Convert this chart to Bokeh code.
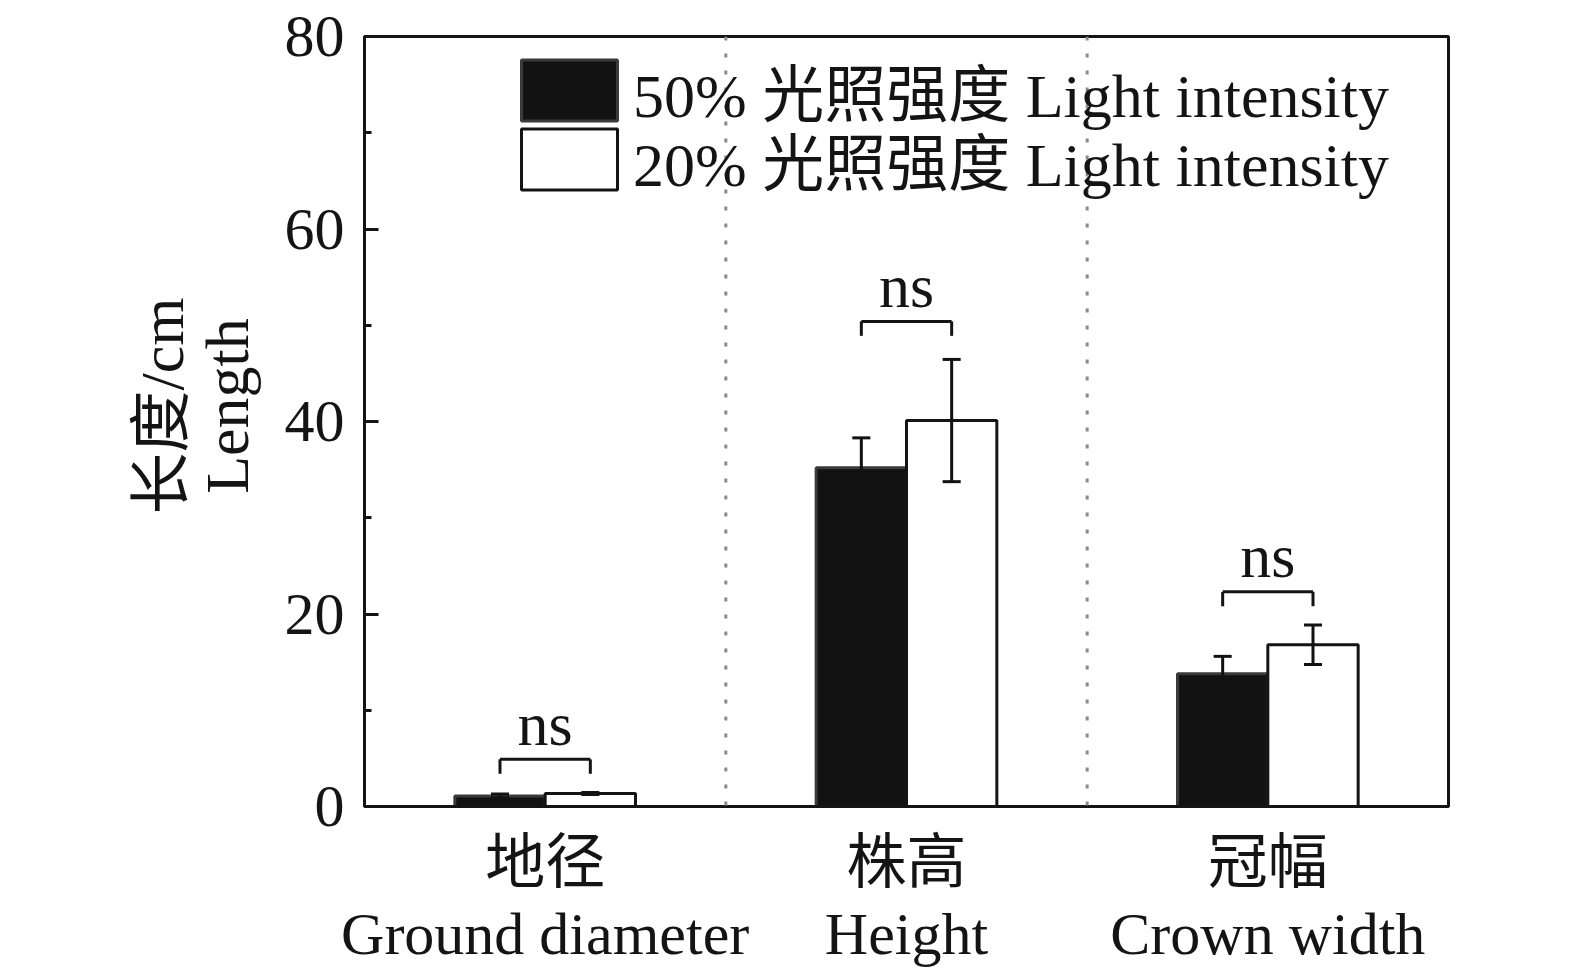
import numpy as np
from bokeh.plotting import figure
from bokeh.models import Range1d, FixedTicker, Span, Legend, LegendItem
from bokeh.core.properties import value
from bokeh.embed import file_html
from bokeh.resources import INLINE

# ---- data ----
categories = ["地径", "株高", "冠幅"]
categories_en = ["Ground diameter", "Height", "Crown width"]
series_names = ["50% 光照强度 Light intensity", "20% 光照强度 Light intensity"]
y_title = ["长度/cm", "Length"]
mean_50 = [1.1, 35.2, 13.8]
err_50 = [0.2, 3.1, 1.8]
mean_20 = [1.35, 40.1, 16.8]
err_20 = [0.1, 6.35, 2.05]
sig_labels = ["ns", "ns", "ns"]
bracket_y = [4.9, 50.4, 22.3]
y_ticks = [0, 20, 40, 60, 80]

FONT = "Liberation Serif, Noto Sans CJK SC"
TXT = "#141414"
NB = "\u00a0"

n = len(categories)
xc = np.arange(1, n + 1, dtype=float)
bw = 0.25
x50 = xc - bw / 2
x20 = xc + bw / 2

FW, FH = 1084, 770
p = figure(output_backend="svg", toolbar_location=None,
           frame_width=FW, frame_height=FH,
           x_range=Range1d(0.5, n + 0.5), y_range=Range1d(0, 80),
           min_border_left=364, min_border_right=100,
           min_border_top=36, min_border_bottom=100)
p.background_fill_color = "white"
p.border_fill_color = "white"
p.outline_line_color = TXT
p.outline_line_width = 3
p.xgrid.visible = False
p.ygrid.visible = False

# dotted separators between groups
for s in (xc[:-1] + xc[1:]) / 2:
    p.add_layout(Span(location=float(s), dimension="height", line_color="#8a8a8a",
                      line_width=3, line_dash="4 13"))

r50 = p.vbar(x=x50, top=mean_50, width=bw, bottom=0, fill_color="#121212",
             line_color="#3a3a3a", line_width=3)
r20 = p.vbar(x=x20, top=mean_20, width=bw, bottom=0, fill_color="white",
             line_color=TXT, line_width=3)

# error bars
cap = 0.025
for xs, m, e in ((x50, mean_50, err_50), (x20, mean_20, err_20)):
    m = np.array(m); e = np.array(e)
    p.segment(x0=xs, y0=m - e, x1=xs, y1=m + e, line_color="#121212", line_width=3)
    p.segment(x0=xs - cap, y0=m + e, x1=xs + cap, y1=m + e, line_color="#121212", line_width=3)
    p.segment(x0=xs - cap, y0=m - e, x1=xs + cap, y1=m - e, line_color="#121212", line_width=3)

# significance brackets
by = np.array(bracket_y)
leg = 1.5
p.segment(x0=x50, y0=by, x1=x20, y1=by, line_color=TXT, line_width=3)
p.segment(x0=x50, y0=by, x1=x50, y1=by - leg, line_color=TXT, line_width=3)
p.segment(x0=x20, y0=by, x1=x20, y1=by - leg, line_color=TXT, line_width=3)
p.text(x=xc, y=by + 3.7, text=sig_labels, text_font=value(FONT),
       text_font_size=value("62px"), text_color=TXT, text_align="center",
       text_baseline="middle")

# axes
ya = p.yaxis[0]
ya.ticker = FixedTicker(ticks=y_ticks,
                        minor_ticks=[(a + b) / 2 for a, b in zip(y_ticks[:-1], y_ticks[1:])])
ya.major_tick_in = 14
ya.major_tick_out = 0
ya.minor_tick_in = 7
ya.minor_tick_out = 0
ya.major_tick_line_width = 3
ya.minor_tick_line_width = 3
ya.axis_line_width = 3
ya.axis_line_color = TXT
ya.major_tick_line_color = TXT
ya.minor_tick_line_color = TXT
ya.major_label_text_font = FONT
ya.major_label_text_font_size = "60px"
ya.major_label_text_color = TXT
ya.major_label_standoff = 20
ya.axis_label = "\n".join(NB * 2 + t for t in y_title)
ya.axis_label_text_font = FONT
ya.axis_label_text_font_size = "62px"
ya.axis_label_text_font_style = "normal"
ya.axis_label_text_color = TXT
ya.axis_label_text_line_height = 0.95
ya.axis_label_standoff = 21

xa = p.xaxis[0]
xa.ticker = FixedTicker(ticks=list(xc))
xa.major_label_overrides = {float(x): f"{c}\n{e}" for x, c, e in zip(xc, categories, categories_en)}
xa.major_tick_line_color = None
xa.minor_tick_line_color = None
xa.axis_line_width = 3
xa.axis_line_color = TXT
xa.major_label_text_font = FONT
xa.major_label_text_font_size = "60px"
xa.major_label_text_color = TXT
xa.major_label_text_line_height = 1.08
xa.major_label_standoff = 17

common = dict(orientation="vertical", glyph_width=120, glyph_height=76, label_height=40,
              label_standoff=4, spacing=0, padding=0, margin=0,
              label_text_font=FONT, label_text_font_size="62px",
              label_text_line_height=0.8,
              label_text_color=TXT, border_line_color=None, background_fill_alpha=0)
leg1 = Legend(items=[LegendItem(label=series_names[0], renderers=[r50])],
              location=(145, 671), **common)
leg2 = Legend(items=[LegendItem(label=series_names[1], renderers=[r20])],
              location=(145, 602), **common)
p.add_layout(leg1, "center")
p.add_layout(leg2, "center")

open("out.html", "w").write(file_html(p, INLINE))
